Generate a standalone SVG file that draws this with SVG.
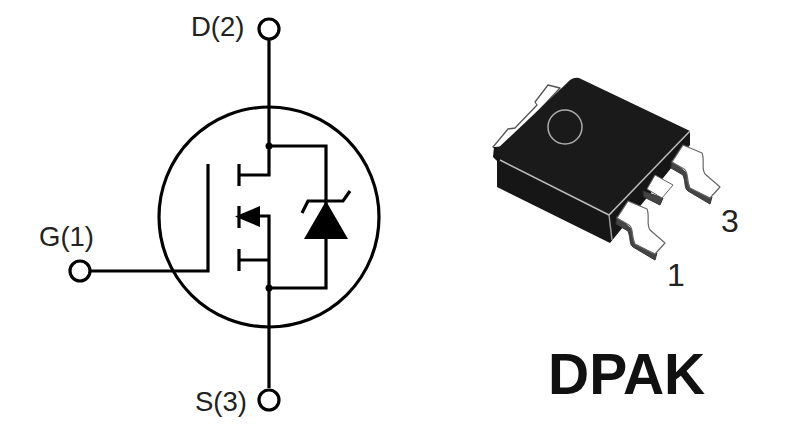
<svg xmlns="http://www.w3.org/2000/svg" width="800" height="437" viewBox="0 0 800 437">
<defs>
<g id="lead-shape">
<path d="M672 160L671 168L683 175C686 183 684 188 688 191L710 204L712 197Z" fill="#444" stroke="#333" stroke-linejoin="round"/>
<path d="M683 145L702 153C705 160 701 168 705 174L720 187L710 198L690 188C686 180 689 172 684 169L672 162Z" fill="#fff" stroke="#666" stroke-width="1.2" stroke-linejoin="round"/>
</g>
</defs>
<style>
.w{fill:none;stroke:#000;stroke-width:3.2}
.t{font-family:"Liberation Sans",Arial,sans-serif;font-size:27.5px;fill:#222}
.n{font-family:"Liberation Sans",Arial,sans-serif;font-size:32px;fill:#222}
</style>
<rect width="800" height="437" fill="#fff"/>
<g id="connectors">
<path class="w" d="M269 40V146M269 146V175H239M239 164V186"/>
<path class="w" d="M269 146H326V209M326 238V288H269M269 288V216H258M269 260H239M239 249V271"/>
<path class="w" d="M269 288V388M90 271H208V164M239 206V228"/>
<path class="w" d="M302 213L308 201H343L350 191"/>
</g>
<g id="body"><circle cx="269" cy="217" r="110" fill="none" stroke="#000" stroke-width="3.2"/></g>
<g id="diode-body"><polygon points="260,206 260,227 235,216.500" fill="#000"/></g>
<g id="zener"><polygon points="326,201 348,239 304,239" fill="#000"/></g>
<g id="junctions"><circle cx="269" cy="146" r="3.5"/><circle cx="269" cy="288" r="3.5"/></g>
<g id="terminal-d"><circle cx="269" cy="29" r="10" fill="#fff" stroke="#000" stroke-width="3.2"/><text class="t" x="191" y="36">D(2)</text></g>
<g id="terminal-g"><circle cx="80" cy="271" r="10" fill="#fff" stroke="#000" stroke-width="3.2"/><text class="t" x="39" y="246">G(1)</text></g>
<g id="terminal-s"><circle cx="269" cy="400" r="10" fill="#fff" stroke="#000" stroke-width="3.2"/><text class="t" x="195" y="411">S(3)</text></g>
<g id="package">
<path d="M548 85L560 88L500 152L493 147L508 129L515 128L537 105L535 102Z" fill="#fff" stroke="#555" stroke-width="1.3" stroke-linejoin="round"/>
<path d="M494 147L493 157L497 161V187L610 243L690 145V131Z" fill="#161616"/>
<use href="#lead-shape"/>
<use href="#lead-shape" x="-55" y="56"/>
<path d="M643 191L644 197L660 205L663 198Z" fill="#444" stroke="#333"/>
<path d="M647 189L655 175L673 185L662 198Z" fill="#fff" stroke="#666"/>
<path d="M500 158L496 150L567 83Q572 77 579 78L690 131L609 215Z" fill="#1a1a1a"/>
<path d="M500 160L609 215L690 131" fill="none" stroke="#bbb" stroke-width="1.5"/>
<path d="M609 215L612 240" fill="none" stroke="#999" stroke-width="1.5"/>
<circle cx="565" cy="127" r="17" fill="none" stroke="#aaa" stroke-width="1.5"/>
<text class="n" x="721" y="232">3</text>
<text class="n" x="667" y="286">1</text>
</g>
<g id="label"><text x="548" y="394" font-family="Liberation Sans,Arial,sans-serif" font-size="57" font-weight="700" fill="#111">DPAK</text></g>
</svg>
